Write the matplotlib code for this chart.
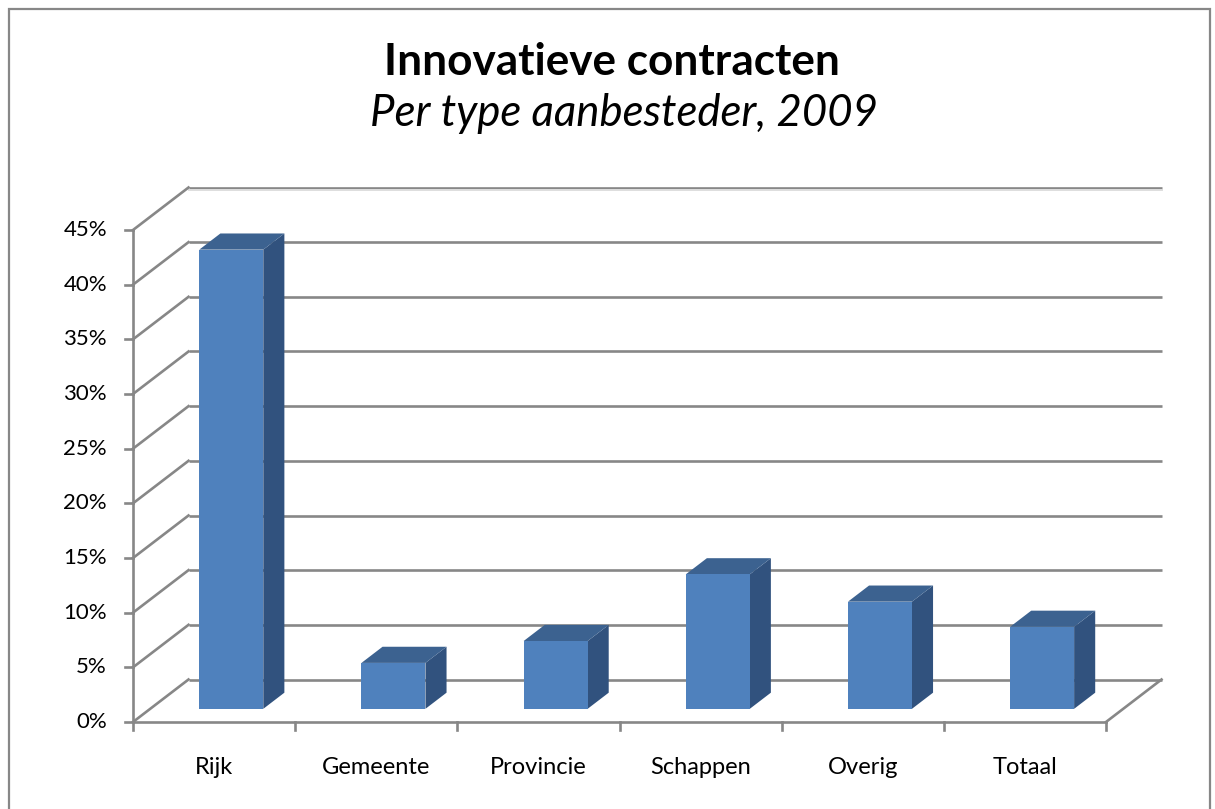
import matplotlib
matplotlib.use('Agg')
import matplotlib.pyplot as plt
from matplotlib.patches import Polygon, Rectangle
from matplotlib.transforms import offset_copy

# ---- data ----
categories = ['Rijk', 'Gemeente', 'Provincie', 'Schappen', 'Overig', 'Totaal']
values = [42.0, 4.2, 6.2, 12.3, 9.8, 7.5]
yticks = [0, 5, 10, 15, 20, 25, 30, 35, 40, 45]
ytick_labels = ['0%', '5%', '10%', '15%', '20%', '25%', '30%', '35%', '40%', '45%']
title = 'Innovatieve contracten'
subtitle = 'Per type aanbesteder, 2009'

# ---- layout / style ----
W, H = 1215, 809
FONT = 'Lato'
GRID = '#878787'
FRONT = '#4f81bd'
TOP = '#3c6290'
SIDE = '#31527e'

fig = plt.figure(figsize=(W / 100, H / 100), dpi=100)
fig.patch.set_facecolor('white')


def fx(px):
    return px / W


def fy(py):
    return 1 - py / H


# outer chart border
fig.patches.append(Rectangle((fx(9), fy(830)), fx(1210) - fx(9), fy(9) - fy(830),
                             transform=fig.transFigure, fill=False,
                             edgecolor=GRID, lw=1.6))

ax = fig.add_axes([fx(133), fy(722), (1106 - 133) / W, (722 - 230) / H])
n = len(categories)
ymax = yticks[-1]
ax.set_xlim(0, n)
ax.set_ylim(0, ymax)
ax.axis('off')

# depth vector (front plane -> back wall), in data units
px_per_x = (1106 - 133) / n
px_per_y = (722 - 230) / ymax
DX = 55.5 / px_per_x
DY = 42.5 / px_per_y

lw = 1.9
# back wall gridlines
for v in yticks:
    ax.plot([DX, n + DX], [v + DY, v + DY], color=GRID, lw=lw, clip_on=False,
            solid_capstyle='butt', zorder=1)
# light edge under top of back wall
ax.plot([DX, n + DX], [ymax + DY - 2.6 / px_per_y] * 2, color='#dedede', lw=1.4,
        clip_on=False, zorder=1)
# side wall diagonals
for v in yticks:
    ax.plot([0, DX], [v, v + DY], color=GRID, lw=lw, clip_on=False, zorder=1)
# floor: front edge and right diagonal
ax.plot([0, n], [0, 0], color=GRID, lw=lw, clip_on=False, zorder=1)
ax.plot([n, n + DX], [0, DY], color=GRID, lw=lw, clip_on=False, zorder=1)
# front value axis
ax.plot([0, 0], [0, ymax], color=GRID, lw=lw, clip_on=False, zorder=1)

# ticks
tick_len = 8 / px_per_x
for v in yticks:
    ax.plot([-tick_len, 0], [v, v], color=GRID, lw=lw, clip_on=False, zorder=1)
for i in range(n + 1):
    ax.plot([i, i], [0, -8 / px_per_y], color=GRID, lw=lw, clip_on=False, zorder=1)

# bars
f0, f1 = 0.31, 0.69
half_w = 0.5 * 64 / px_per_x
for i, v in enumerate(values):
    c = i + 0.5
    xl = c - half_w + f0 * DX
    xr = c + half_w + f0 * DX
    yb = f0 * DY
    yt = v + f0 * DY
    ddx = (f1 - f0) * DX
    ddy = (f1 - f0) * DY
    side = Polygon([(xr, yb), (xr, yt), (xr + ddx, yt + ddy), (xr + ddx, yb + ddy)],
                   closed=True, facecolor=SIDE, edgecolor='none', zorder=3, clip_on=False)
    top = Polygon([(xl, yt), (xr, yt), (xr + ddx, yt + ddy), (xl + ddx, yt + ddy)],
                  closed=True, facecolor=TOP, edgecolor='none', zorder=3, clip_on=False)
    front = Polygon([(xl, yb), (xr, yb), (xr, yt), (xl, yt)],
                    closed=True, facecolor=FRONT, edgecolor='none', zorder=4, clip_on=False)
    for p in (side, top, front):
        ax.add_patch(p)

# tick labels
ylab_tr = offset_copy(ax.transData, fig=fig, x=-26, y=0, units='dots')
for v, lab in zip(yticks, ytick_labels):
    ax.text(0, v, lab, transform=ylab_tr, ha='right', va='center',
            fontsize=16, family=FONT, color='black')
xlab_tr = offset_copy(ax.transData, fig=fig, x=0, y=-45, units='dots')
for i, lab in enumerate(categories):
    ax.text(i + 0.5, 0, lab, transform=xlab_tr, ha='center', va='center',
            fontsize=17, family=FONT, color='black')

# titles
fig.text(fx(612), fy(75), title, ha='center', va='baseline', fontsize=31.8,
         fontweight='bold', family=FONT, color='black')
fig.text(fx(624), fy(126), subtitle, ha='center', va='baseline', fontsize=31.5,
         style='italic', family=FONT, color='black')

fig.savefig('out.png', dpi=100, facecolor='white')
